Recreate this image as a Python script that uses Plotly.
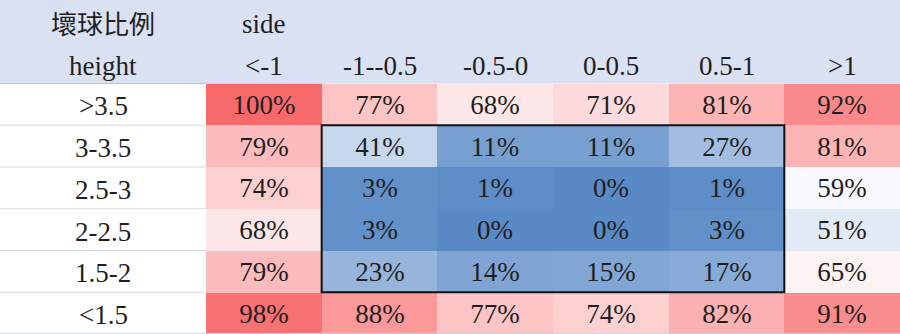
import plotly.graph_objects as go

# Strike ratio (%) by pitch location: rows = height band, columns = side band
side_bins = ["<-1", "-1--0.5", "-0.5-0", "0-0.5", "0.5-1", ">1"]
height_bins = [">3.5", "3-3.5", "2.5-3", "2-2.5", "1.5-2", "<1.5"]
ratio = [
    [100, 77, 68, 71, 81, 92],
    [79, 41, 11, 11, 27, 81],
    [74, 3, 1, 0, 1, 59],
    [68, 3, 0, 0, 3, 51],
    [79, 23, 14, 15, 17, 65],
    [98, 88, 77, 74, 82, 91],
]
corner_title = "壞球比例"
col_title = "side"
row_title = "height"

W, H = 900, 334
label_col_w = 206          # width of the row-label column, px
row_h = H / 8              # two header rows + six data rows
header_h = 2 * row_h

FONT = "Liberation Serif"
TXT = "#1f1f1f"
FS = 27

# three-colour scale: blue (min) -> white (median) -> red (max)
flat = sorted(v for r in ratio for v in r)
n = len(flat)
median = (flat[n // 2 - 1] + flat[n // 2]) / 2
zmin, zmax = min(flat), max(flat)
mid = (median - zmin) / (zmax - zmin)
colorscale = [[0, "#5A8AC6"], [mid, "#FFFFFF"], [1, "#F8696B"]]

fig = go.Figure(
    go.Heatmap(
        z=ratio,
        x=side_bins,
        y=height_bins,
        zmin=zmin,
        zmax=zmax,
        colorscale=colorscale,
        showscale=False,
        texttemplate="%{z}%",
        textfont=dict(family=FONT, size=FS, color=TXT),
        hoverinfo="skip",
        xgap=0,
        ygap=0,
    )
)

x_dom0 = label_col_w / W
y_dom1 = (H - header_h) / H

shapes = [
    # header band
    dict(type="rect", xref="paper", yref="paper", x0=0, x1=1, y0=y_dom1, y1=1,
         fillcolor="#D9E1F2", line=dict(width=0), layer="below"),
    # thin rule under the header
    dict(type="line", xref="paper", yref="paper", x0=0, x1=x_dom0, y0=y_dom1, y1=y_dom1,
         line=dict(color="#B4C0D8", width=1)),
    # bottom edge
    dict(type="line", xref="paper", yref="paper", x0=0, x1=1, y0=0.002, y1=0.002,
         line=dict(color="#C9D2E3", width=1)),
]
# row separators in the label column
for i in range(1, len(height_bins)):
    yy = i - 0.5
    shapes.append(dict(type="line", xref="paper", yref="y", x0=0, x1=x_dom0, y0=yy, y1=yy,
                       line=dict(color="#D5DAE3", width=1)))
# outline around the inner strike-zone block
shapes.append(dict(type="rect", xref="x", yref="y", x0=0.5, x1=4.5, y0=0.5, y1=4.5,
                   line=dict(color="#111111", width=2), fillcolor="rgba(0,0,0,0)"))

ann = []
hdr1_y = 1 - (row_h / 2) / H
hdr2_y = 1 - (row_h * 1.5) / H
lab_x = (label_col_w / 2) / W


def label(text, x, y, xref, yref, family=FONT, size=FS, dy=-3):
    return dict(text=text, xref=xref, yref=yref, x=x, y=y, xanchor="center",
                yanchor="middle", yshift=dy, showarrow=False,
                font=dict(family=family, size=size, color=TXT))


ann.append(label(corner_title, lab_x, hdr1_y, "paper", "paper",
                 family="Noto Sans CJK TC", size=26, dy=-2))
ann.append(label(row_title, lab_x, hdr2_y, "paper", "paper"))
ann.append(label(col_title, side_bins[0], hdr1_y, "x", "paper"))
for s in side_bins:
    ann.append(label(s, s, hdr2_y, "x", "paper"))
for h in height_bins:
    ann.append(label(h, lab_x, h, "paper", "y", dy=-2))

fig.update_layout(
    width=W,
    height=H,
    margin=dict(l=0, r=0, t=0, b=0),
    paper_bgcolor="white",
    plot_bgcolor="white",
    font=dict(family=FONT),
    xaxis=dict(domain=[x_dom0, 1], showticklabels=False, ticks="", showgrid=False,
               zeroline=False, fixedrange=True),
    yaxis=dict(domain=[0, y_dom1], autorange="reversed", showticklabels=False, ticks="",
               showgrid=False, zeroline=False, fixedrange=True),
    shapes=shapes,
    annotations=ann,
)

fig.write_html("out.html", config={"displayModeBar": False})
